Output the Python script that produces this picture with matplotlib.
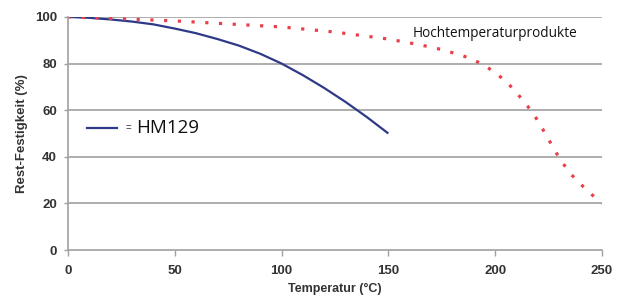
import matplotlib
matplotlib.use("Agg")
import matplotlib.pyplot as plt

# Data
hm_temp = [0, 10, 20, 30, 40, 50, 60, 70, 80, 90, 100, 110, 120, 130, 140, 150]
hm_val = [100, 99.6, 98.9, 98.0, 96.8, 95.0, 93.0, 90.5, 87.7, 84.2, 80, 75, 69.5, 63.5, 57, 50]

ht_temp = [0, 25, 50, 75, 100, 125, 150, 165, 175, 185, 190, 195, 200, 205, 210, 215,
           220, 225, 230, 235, 240, 245, 250]
ht_val = [100, 99.2, 98.3, 97, 95.7, 93.5, 90.5, 88, 86, 83.3, 81.5, 79.3, 76, 72.5, 67.5, 62,
          55.5, 47.5, 39.5, 33, 28.3, 24, 20]

xticks = [0, 50, 100, 150, 200, 250]
yticks = [0, 20, 40, 60, 80, 100]

fig = plt.figure(figsize=(6.18, 3.02), dpi=100)
ax = fig.add_axes([0.110, 0.172, 0.864, 0.772])

ax.plot(hm_temp, hm_val, color="#2E3A87", lw=1.6, solid_capstyle="butt")
ax.plot(ht_temp, ht_val, color="#E8404A", lw=2.3, linestyle=(0, (1, 3.3)))

ax.set_xlim(0, 250)
ax.set_ylim(0, 100)
ax.set_xticks(xticks)
ax.set_yticks(yticks)
for y in yticks[1:]:
    ax.axhline(y, color="#a0a0a0", lw=1.2, zorder=0)

for s in ["top", "right"]:
    ax.spines[s].set_visible(False)
for s in ["left", "bottom"]:
    ax.spines[s].set_color("#a0a0a0")
    ax.spines[s].set_linewidth(1.2)

ax.tick_params(axis="both", colors="#a0a0a0", labelcolor="#333333", length=4, width=1.0)
ax.tick_params(axis="y", length=3, pad=5)
for lab in ax.get_xticklabels() + ax.get_yticklabels():
    lab.set_fontfamily("Liberation Sans")
    lab.set_fontweight("bold")
    lab.set_fontsize(9.5)
ax.tick_params(axis="x", pad=7)

ax.set_xlabel("Temperatur (°C)", fontfamily="Liberation Sans", fontweight="bold", fontsize=9, color="#333333", labelpad=4)
ax.set_ylabel("Rest-Festigkeit (%)", fontfamily="Liberation Sans", fontweight="bold", fontsize=9.5, color="#333333", labelpad=5)

ax.text(161.5, 93, "Hochtemperaturprodukte", fontfamily="Open Sans", fontsize=9.8, color="#111111", va="center", ha="left")

ax.plot([9, 23], [52.4, 52.4], color="#2E3A87", lw=1.6)
ax.text(27, 52.4, "=", fontfamily="Liberation Sans", fontsize=7, color="#333333", va="center", ha="left")
ax.text(32, 52.4, "HM129", fontfamily="Open Sans", fontsize=13.5, color="#111111", va="center", ha="left")

fig.savefig("out.png", dpi=100)
